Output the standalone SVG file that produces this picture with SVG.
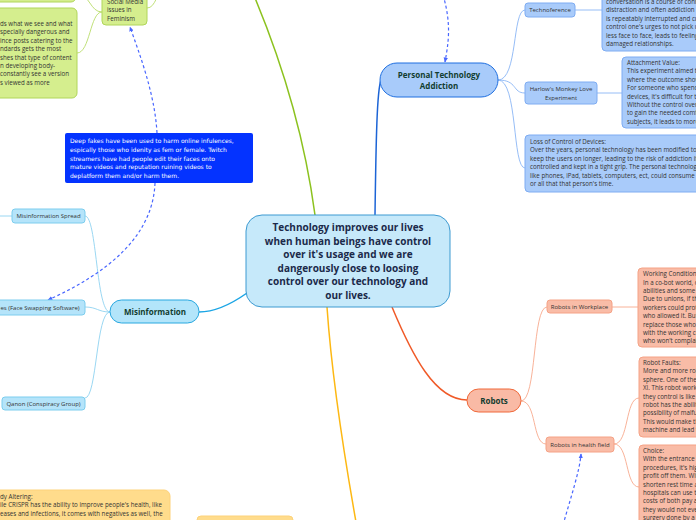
<svg xmlns="http://www.w3.org/2000/svg" width="696" height="520" viewBox="0 0 696 520">
<style>
.t{font-family:"Open Sans","Noto Sans",sans-serif;font-size:6.2px;fill:#333}
.lb{font-family:"Open Sans","Noto Sans",sans-serif;font-size:6px;fill:#333;text-anchor:middle}
.mt{font-family:"Open Sans","Noto Sans",sans-serif;font-size:8px;font-weight:700;fill:#123d30;text-anchor:middle}
.ct{font-family:"Open Sans","Noto Sans",sans-serif;font-size:10px;font-weight:700;fill:#1b2a4a;text-anchor:middle}
.nt{font-family:"DejaVu Sans",sans-serif;font-size:6px;fill:#fff}
.mi{fill:#b5e4fa;stroke:#7ccdee;stroke-width:1}
.pt{fill:#a9cbfa;stroke:#7eacf2;stroke-width:1}
.gr{fill:#d5ee8e;stroke:#b0d65a;stroke-width:1}
.ye{fill:#ffdc8c;stroke:#fdd27a;stroke-width:1}
.ro{fill:#f9bca7;stroke:#f5a286;stroke-width:1}
.c{fill:none}
.dash{fill:none;stroke:#4866ff;stroke-width:1.2;stroke-dasharray:3 2.5}
</style>
<defs>
<marker id="ah" viewBox="0 0 8 8" refX="7" refY="4" markerWidth="5" markerHeight="5" orient="auto" markerUnits="userSpaceOnUse">
<path d="M0,0.5 L8,4 L0,7.5 z" fill="#4866ff"/>
</marker>
</defs>

<g id="connectors">
<path class="c" d="M255,-2 C285,70 305,140 315,215" stroke="#8cc21f" stroke-width="1.5"/>
<path class="c" d="M327,307 C332,380 345,460 356,522" stroke="#fdb813" stroke-width="1.5"/>
<path class="c" d="M392,307 C412,355 435,400 467,400" stroke="#f05a28" stroke-width="1.5"/>
<path class="c" d="M247,293 C230,305 215,312 199,312" stroke="#1ba5e5" stroke-width="1.5"/>
<path class="c" d="M375,215 C376,140 377,90 381,80" stroke="#1c64d6" stroke-width="1.5"/>
<g stroke="#8fd3f0" stroke-width="0.9" fill="none">
<path d="M110,312 C96,312 97,216 85,216"/>
<path d="M110,312 C98,312 97,307 85,307"/>
<path d="M110,312 C96,312 97,398 85,398"/>
<path d="M0,216 L12,216"/>
</g>
<g stroke="#8ab6f5" stroke-width="0.9" fill="none">
<path d="M498,80 C518,80 512,10 525,10"/>
<path d="M498,80 C518,80 512,93 525,93"/>
<path d="M498,80 C518,80 512,168 525,168"/>
<path d="M575,10 L602,10"/>
<path d="M597,93 L622,93"/>
</g>
<g stroke="#f7a98d" stroke-width="0.9" fill="none">
<path d="M521,401 C537,401 532,307 547,307"/>
<path d="M521,401 C537,401 532,444 546,444"/>
<path d="M612,307 L638,307"/>
<path d="M614,444 C629,444 625,398 639,398"/>
<path d="M614,444 C629,444 625,487 639,487"/>
</g>
<g stroke="#b9dc6a" stroke-width="0.9" fill="none">
<path d="M102,12 C90,12 90,53 77,53"/>
<path d="M102,12 C90,12 90,-6 77,-6"/>
<path d="M147,8 C156,8 156,-8 166,-14"/>
</g>
<path class="dash" d="M157,133 C155,95 140,55 130,27" marker-end="url(#ah)"/>
<path class="dash" d="M155,183 C153,235 110,272 48,300" marker-end="url(#ah)"/>
<path class="dash" d="M443,-5 C452,25 448,45 445,62" marker-end="url(#ah)"/>
<path class="dash" d="M563,525 C570,500 580,470 581,454" marker-end="url(#ah)"/>
</g>

<g id="center">
<rect x="246" y="215" width="204" height="92" rx="16" fill="#c6e9fa" stroke="#3d9ad1" stroke-width="1"/>
<text class="ct" x="348" y="231.3">Technology improves our lives</text>
<text class="ct" x="348" y="244.8">when human beings have control</text>
<text class="ct" x="348" y="258.3">over it's usage and we are</text>
<text class="ct" x="348" y="271.8">dangerously close to loosing</text>
<text class="ct" x="348" y="285.3">control over our technology and</text>
<text class="ct" x="348" y="298.8">our lives.</text>
</g>

<g id="misinformation">
<rect x="110" y="300" width="89" height="23" rx="11.5" fill="#b3e5fa" stroke="#29a8e0" stroke-width="1"/>
<text class="mt" x="155" y="315">Misinformation</text>
</g>
<g id="misinfo-spread">
<rect class="mi" x="12" y="209" width="73" height="14" rx="3"/>
<text class="lb" x="48.5" y="218.2">Misinformation Spread</text>
</g>
<g id="deep-fakes">
<rect class="mi" x="-10" y="300" width="95" height="15" rx="3"/>
<text class="lb" x="40" y="309.5">es (Face Swapping Software)</text>
</g>
<g id="qanon">
<rect class="mi" x="2" y="397" width="83" height="13" rx="3"/>
<text class="lb" x="43.5" y="405.5">Qanon (Conspiracy Group)</text>
</g>
<g id="deep-fakes-note">
<rect x="65" y="133" width="188" height="50" rx="2" fill="#0433ff"/>
<text class="nt" x="70" y="143">Deep fakes have been used to harm online infulences,</text>
<text class="nt" x="70" y="151.8">espically those who idenity as fem or female. Twitch</text>
<text class="nt" x="70" y="160.6">streamers have had people edit their faces onto</text>
<text class="nt" x="70" y="169.4">mature videos and reputation ruining videos to</text>
<text class="nt" x="70" y="178.2">deplatform them and/or harm them.</text>
</g>

<g id="social-media-feminism">
<rect class="gr" x="102" y="-8" width="45" height="33" rx="4"/>
<text class="t" x="107" y="4.2">Social Media</text>
<text class="t" x="107" y="12.4">issues in</text>
<text class="t" x="107" y="20.6">Feminism</text>
</g>
<g id="green-top">
<rect class="gr" x="-10" y="-30" width="86" height="32" rx="5"/>
</g>
<g id="green-body">
<rect class="gr" x="-10" y="8" width="87" height="90" rx="5"/>
<text class="t" x="0" y="26">ds what we see and what</text>
<text class="t" x="0" y="34.4">specially dangerous and</text>
<text class="t" x="0" y="42.8">ince posts catering to the</text>
<text class="t" x="0" y="51.2">ndards gets the most</text>
<text class="t" x="0" y="59.6">shes that type of content</text>
<text class="t" x="0" y="68">n developing body-</text>
<text class="t" x="0" y="76.4"> constantly see a version</text>
<text class="t" x="0" y="84.8">s viewed as more</text>
</g>

<g id="personal-tech">
<rect x="380" y="63" width="118" height="34" rx="17" fill="#a8cbfa" stroke="#1f6fe0" stroke-width="1"/>
<text class="mt" x="439" y="78">Personal Technology</text>
<text class="mt" x="439" y="89">Addiction</text>
</g>
<g id="technoference">
<rect class="pt" x="525" y="3" width="50" height="14" rx="3"/>
<text class="lb" x="550" y="12.2">Technoference</text>
</g>
<g id="technoference-note">
<rect class="pt" x="602" y="-20" width="104" height="71" rx="4"/>
<text class="t" x="606" y="4">conversation is a course of conn</text>
<text class="t" x="606" y="12.4">distraction and often addiction to</text>
<text class="t" x="606" y="20.8">is repeatably interrupted and cut</text>
<text class="t" x="606" y="29.2">control one's urges to not pick up</text>
<text class="t" x="606" y="37.6">less face to face, leads to feeling</text>
<text class="t" x="606" y="46">damaged relationships.</text>
</g>
<g id="harlow">
<rect class="pt" x="525" y="82" width="72" height="22" rx="3"/>
<text class="lb" x="561" y="91.2">Harlow's Monkey Love</text>
<text class="lb" x="561" y="100">Experiment</text>
</g>
<g id="harlow-note">
<rect class="pt" x="622" y="57" width="84" height="71" rx="4"/>
<text class="t" x="627" y="65">Attachment Value:</text>
<text class="t" x="627" y="73.4">This experiment aimed to</text>
<text class="t" x="627" y="81.8">where the outcome show</text>
<text class="t" x="627" y="90.2">For someone who spends</text>
<text class="t" x="627" y="98.6">devices, it's difficult for th</text>
<text class="t" x="627" y="107">Without the control over t</text>
<text class="t" x="627" y="115.4">to gain the needed comfo</text>
<text class="t" x="627" y="123.8">subjects, it leads to more</text>
</g>
<g id="loss-of-control">
<rect class="pt" x="525" y="135" width="181" height="57" rx="4"/>
<text class="t" x="530" y="144">Loss of Control of Devices:</text>
<text class="t" x="530" y="152.4">Over the years, personal technology has been modified to</text>
<text class="t" x="530" y="160.8">keep the users on longer, leading to the risk of addiction if no</text>
<text class="t" x="530" y="169.2">controlled and kept in a tight grip. The personal technology,</text>
<text class="t" x="530" y="177.6">like phones, iPad, tablets, computers, ect, could consume me</text>
<text class="t" x="530" y="186">or all that that person's time.</text>
</g>

<g id="robots">
<rect x="467" y="389" width="54" height="23" rx="11.5" fill="#f9baa5" stroke="#f0693a" stroke-width="1"/>
<text class="mt" x="494" y="404">Robots</text>
</g>
<g id="robots-workplace">
<rect class="ro" x="547" y="300" width="65" height="13" rx="3"/>
<text class="lb" x="579.5" y="308.8">Robots in Workplace</text>
</g>
<g id="workplace-note">
<rect class="ro" x="638" y="268" width="68" height="79" rx="4"/>
<text class="t" x="643" y="276.2">Working Conditions:</text>
<text class="t" x="643" y="284.6">In a co-bot world, o</text>
<text class="t" x="643" y="293">abilities and some o</text>
<text class="t" x="643" y="301.4">Due to unions, if the</text>
<text class="t" x="643" y="309.8">workers could prote</text>
<text class="t" x="643" y="318.2">who allowed it. But</text>
<text class="t" x="643" y="326.6">replace those who t</text>
<text class="t" x="643" y="335">with the working co</text>
<text class="t" x="643" y="343.4">who won't complain</text>
</g>
<g id="robots-health">
<rect class="ro" x="546" y="437" width="68" height="15" rx="3"/>
<text class="lb" x="580" y="446.5">Robots in health field</text>
</g>
<g id="faults-note">
<rect class="ro" x="639" y="357" width="67" height="80" rx="4"/>
<text class="t" x="643" y="365">Robot Faults:</text>
<text class="t" x="643" y="373.4">More and more rob</text>
<text class="t" x="643" y="381.8">sphere. One of the</text>
<text class="t" x="643" y="390.2">XI. This robot work</text>
<text class="t" x="643" y="398.6">they control is like a</text>
<text class="t" x="643" y="407">robot has the abilit</text>
<text class="t" x="643" y="415.4">possibility of malfu</text>
<text class="t" x="643" y="423.8">This would make th</text>
<text class="t" x="643" y="432.2">machine and lead t</text>
</g>
<g id="choice-note">
<rect class="ro" x="639" y="445" width="67" height="90" rx="4"/>
<text class="t" x="643" y="453">Choice:</text>
<text class="t" x="643" y="461.4">With the entrance o</text>
<text class="t" x="643" y="469.8">procedures, it's hig</text>
<text class="t" x="643" y="478.2">profit off them. Wit</text>
<text class="t" x="643" y="486.6">shorten rest time a</text>
<text class="t" x="643" y="495">hospitals can use th</text>
<text class="t" x="643" y="503.4">costs of both pay a</text>
<text class="t" x="643" y="511.8">they would not eve</text>
<text class="t" x="643" y="520.2">surgery done by a r</text>
</g>

<g id="body-altering">
<rect class="ye" x="-10" y="490" width="180" height="45" rx="6"/>
<text class="t" x="0" y="499">dy Altering:</text>
<text class="t" x="0" y="507.4">ile CRISPR has the ability to improve people's health, like</text>
<text class="t" x="0" y="515.8">eases and infections, it comes with negatives as well, the</text>
</g>
<g id="yellow-bottom">
<rect class="ye" x="197" y="516" width="96" height="20" rx="4"/>
</g>
</svg>
